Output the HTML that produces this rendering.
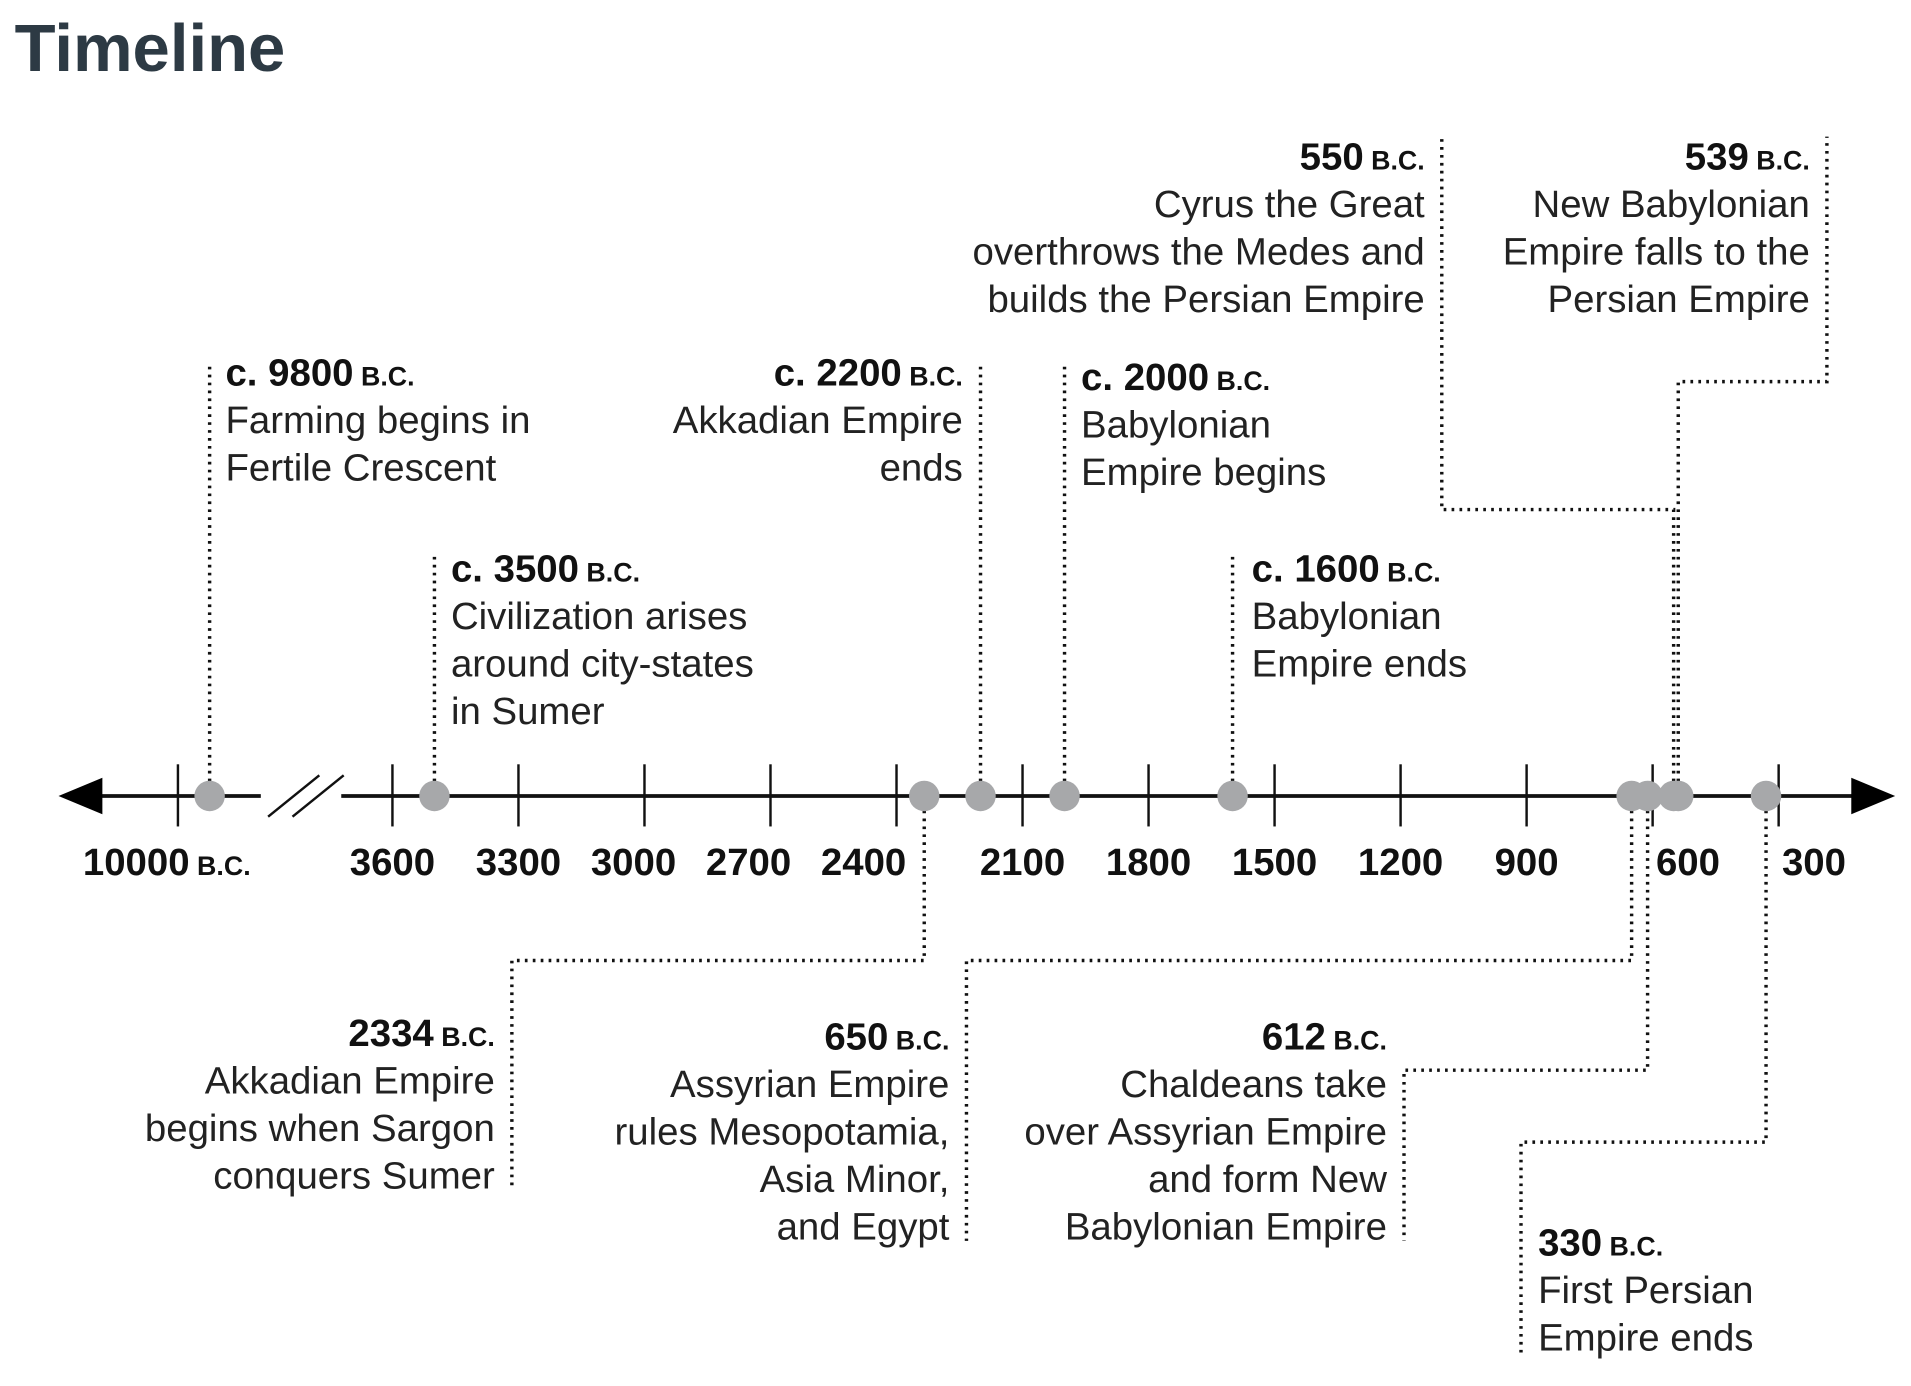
<!DOCTYPE html>
<html><head><meta charset="utf-8"><style>
html,body{margin:0;padding:0;background:#fff;}
svg{display:block;}
text{font-family:"Liberation Sans",sans-serif;}
</style></head><body>
<svg id="chart" width="1911" height="1386" viewBox="0 0 1568 1137" xmlns="http://www.w3.org/2000/svg">
<text x="12" y="58" font-size="55" font-weight="bold" fill="#2d3a44">Timeline</text>
<g id="axis"></g>
<g id="leaders"></g>
<g id="dots"></g>
<g id="labels"></g>
</svg>
<script>
const tickYears = [3600,3300,3000,2700,2400,2100,1800,1500,1200,900,600,300];
const tickLabels = ["3600","3300","3000","2700","2400","2100","1800","1500","1200","900","600","300"];
const eventYears = [9800,3500,2334,2200,2000,1600,650,612,550,539,330];
const eventDates = ["c. 9800","c. 3500","2334","c. 2200","c. 2000","c. 1600","650","612","550","539","330"];
const eventTexts = [
 ["Farming begins in","Fertile Crescent"],
 ["Civilization arises","around city-states","in Sumer"],
 ["Akkadian Empire","begins when Sargon","conquers Sumer"],
 ["Akkadian Empire","ends"],
 ["Babylonian","Empire begins"],
 ["Babylonian","Empire ends"],
 ["Assyrian Empire","rules Mesopotamia,","Asia Minor,","and Egypt"],
 ["Chaldeans take","over Assyrian Empire","and form New","Babylonian Empire"],
 ["Cyrus the Great","overthrows the Medes and","builds the Persian Empire"],
 ["New Babylonian","Empire falls to the","Persian Empire"],
 ["First Persian","Empire ends"]
];
// layout (not data)
const labelShift = [0,0,-9,-18,-27,0,0,0,0,0,29,29];
const layout = [
 {dir:-1, top:300, anchor:"start", tx:185, ty:316},
 {dir:-1, top:455, anchor:"start", tx:370, ty:477},
 {dir:1, elbowY:788, outX:420, bottom:975, anchor:"end", tx:406, ty:858},
 {dir:-1, top:298, anchor:"end", tx:790, ty:316},
 {dir:-1, top:300, anchor:"start", tx:887, ty:320},
 {dir:-1, top:455, anchor:"start", tx:1027, ty:477},
 {dir:1, elbowY:788, outX:793, bottom:1018, anchor:"end", tx:779, ty:861},
 {dir:1, elbowY:878, outX:1152, bottom:1018, anchor:"end", tx:1138, ty:861},
 {dir:-1, elbowY:418, outX:1183, top:112, anchor:"end", tx:1169, ty:139},
 {dir:-1, elbowY:313, outX:1499, top:112, anchor:"end", tx:1485, ty:139},
 {dir:1, elbowY:937, outX:1248, bottom:1110, anchor:"start", tx:1262, ty:1030}
];
const AY = 653;
const FS = 31.5;
function xScale(y){ if(y>5000) return 146 + (10000-y)*26/200; return 322 + (3600-y)*103.4/300; }
const NS="http://www.w3.org/2000/svg";
function mk(tag, parent, attrs){ const e=document.createElementNS(NS,tag); for(const k in attrs) e.setAttribute(k,attrs[k]); parent.appendChild(e); return e; }
const axis=document.getElementById('axis');
let l=mk('line',axis,{x1:62,y1:AY,x2:1540,y2:AY,stroke:'#111','stroke-width':3});


let a=mk('polygon',axis,{points:`48,${AY} 84,${AY-15} 84,${AY+15}`,fill:'#000'});


a=mk('polygon',axis,{points:`1555,${AY} 1519,${AY-15} 1519,${AY+15}`,fill:'#000'});


let br=mk('rect',axis,{x:214,y:AY-4,width:66,height:8,fill:'#fff'});


[[220,262],[240,282]].forEach(p=>{const b=mk('line',axis,{x1:p[0],y1:AY+17,x2:p[1],y2:AY-17,stroke:'#111','stroke-width':2});

});
let t=mk('line',axis,{x1:146,y1:AY-26,x2:146,y2:AY+25,stroke:'#111','stroke-width':2});


let tl=mk('text',axis,{x:68,y:718,'font-size':FS,'font-weight':'bold',fill:'#111'});
tl.innerHTML='10000<tspan font-size="22"> B.C.</tspan>';


tickYears.forEach((y,i)=>{
 const x=xScale(y);
 const tk=mk('line',axis,{x1:x,y1:AY-26,x2:x,y2:AY+25,stroke:'#111','stroke-width':2});
 
 
 const lb=mk('text',axis,{x:x+labelShift[i],y:718,'font-size':FS,'font-weight':'bold',fill:'#111','text-anchor':'middle'});
 lb.textContent=tickLabels[i];
 
 
});
const leaders=document.getElementById('leaders'), dots=document.getElementById('dots'), labels=document.getElementById('labels');
const dash={fill:'none',stroke:'#111','stroke-width':2.8,'stroke-dasharray':'2.2 4.3'};
eventYears.forEach((yr,i)=>{
 const x=xScale(yr), L=layout[i];
 let d;
 if(L.dir<0){
  if(L.outX!==undefined) d=`M${x},${AY-12} V${L.elbowY} H${L.outX} V${L.top}`;
  else d=`M${x},${AY-12} V${L.top}`;
 } else {
  d=`M${x},${AY+12} V${L.elbowY} H${L.outX} V${L.bottom}`;
 }
 const p=mk('path',leaders,Object.assign({d:d},dash));
 
 
 const c=mk('circle',dots,{cx:x,cy:AY,r:12.5,fill:'#a7a8aa'});
 
 
 const g=mk('g',labels,{});
 
 
 const h=mk('text',g,{x:L.tx,y:L.ty,'font-size':FS,'font-weight':'bold',fill:'#111','text-anchor':L.anchor});
 h.innerHTML=eventDates[i]+'<tspan font-size="22"> B.C.</tspan>';
 
 
 eventTexts[i].forEach((s,j)=>{
  const tx=mk('text',g,{x:L.tx,y:L.ty+39*(j+1),'font-size':FS,fill:'#222','text-anchor':L.anchor});
  tx.textContent=s;
  
  
 });
});
</script>
</body></html>
